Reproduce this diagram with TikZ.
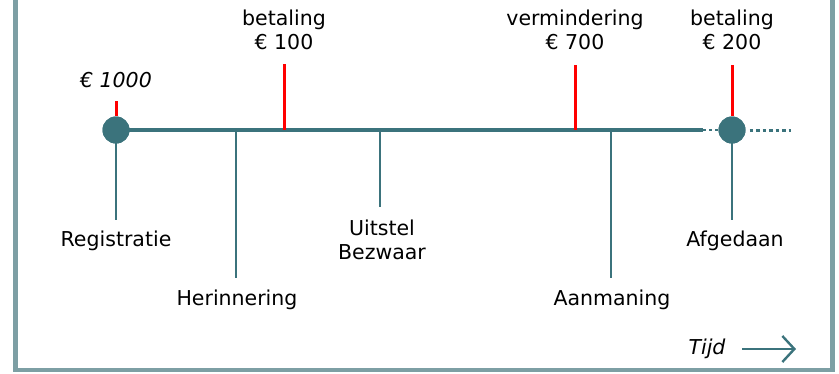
\documentclass[tikz,border=0pt]{standalone}
\usepackage{fontspec}
\setmainfont{DejaVu Sans}
\usetikzlibrary{arrows.meta}
\definecolor{tl}{HTML}{3B737C}
\definecolor{fr}{HTML}{7D9FA4}
\definecolor{rd}{HTML}{FF0000}
\begin{document}
\begin{tikzpicture}[x=1pt,y=-1pt,
  lbl/.style={font=\fontsize{20.5}{24}\selectfont, align=center, inner sep=0pt, text=black},
  ilbl/.style={lbl, font=\fontsize{20.5}{24}\selectfont\itshape},
  dot/.style={circle, fill=tl, minimum size=27pt, inner sep=0pt},
  tickdown/.style={draw=tl, line width=2.6pt},
  tickup/.style={draw=rd, line width=3pt},
  mainline/.style={draw=tl, line width=3.8pt}]
\useasboundingbox (0,0) rectangle (839,373);
\begin{scope}
\clip (0,0) rectangle (839,373);
\draw[fr, line width=4.5pt] (15.5,-20) rectangle (832.5,370);
\end{scope}
% main axis
\node[dot] (c1) at (116,130) {};
\node[dot] (c2) at (732,130) {};
\coordinate (e1) at (703,130);
\coordinate (e2) at (791,130);
\draw[mainline] (c1.center) -- (e1);
\draw[draw=tl, line width=2.5pt, dash pattern=on 3pt off 3pt] (e1) -- (c2.west);
\draw[draw=tl, line width=3pt, dash pattern=on 3.5pt off 3pt] (c2.east) ++(4,0) coordinate (d0) (d0) -- (e2);
% red ticks up
\coordinate (r1t) at (116,101);
\coordinate (r2t) at (284,64);  \coordinate (r2b) at (284,130);
\coordinate (r3t) at (575,65);  \coordinate (r3b) at (575,130);
\coordinate (r4t) at (732,65);
\draw[tickup] (r1t) -- (c1.north);
\draw[tickup] (r2t) -- (r2b);
\draw[tickup] (r3t) -- (r3b);
\draw[tickup] (r4t) -- (c2.north);
% teal ticks down
\coordinate (t2a) at (236,130); \coordinate (t2b) at (236,278);
\coordinate (t3a) at (380,130); \coordinate (t3b) at (380,207);
\coordinate (t4a) at (611,130); \coordinate (t4b) at (611,278);
\coordinate (t1b) at (116,220);
\coordinate (t5b) at (732,220);
\draw[tickdown] (c1.center) -- (t1b);
\draw[tickdown] (t2a) -- (t2b);
\draw[tickdown] (t3a) -- (t3b);
\draw[tickdown] (t4a) -- (t4b);
\draw[tickdown] (c2.center) -- (t5b);
\node[dot] at (c1) {};
\node[dot] at (c2) {};
% labels
\node[ilbl] (l1) at (116,80) {€ 1000};
\node[lbl] (l2) at (284,30) {betaling\\€ 100};
\node[lbl] (l3) at (575,30) {vermindering\\€ 700};
\node[lbl] (l4) at (732,30) {betaling\\€ 200};
\node[lbl] (b1) at (116,241) {Registratie};
\node[lbl] (b2) at (237,300) {Herinnering};
\node[lbl] (b3) at (382,240) {Uitstel\\Bezwaar};
\node[lbl] (b4) at (612,300) {Aanmaning};
\node[lbl] (b5) at (735,241) {Afgedaan};
\node[ilbl] (tijd) at (707,349) {Tijd};
\coordinate (a1) at (742,349);
\coordinate (a2) at (796,349);
\draw[tl, line width=2.6pt, -{Straight Barb[length=12pt,width=26pt,line width=2.4pt]}] (a1) -- (a2);
\end{tikzpicture}
\end{document}
